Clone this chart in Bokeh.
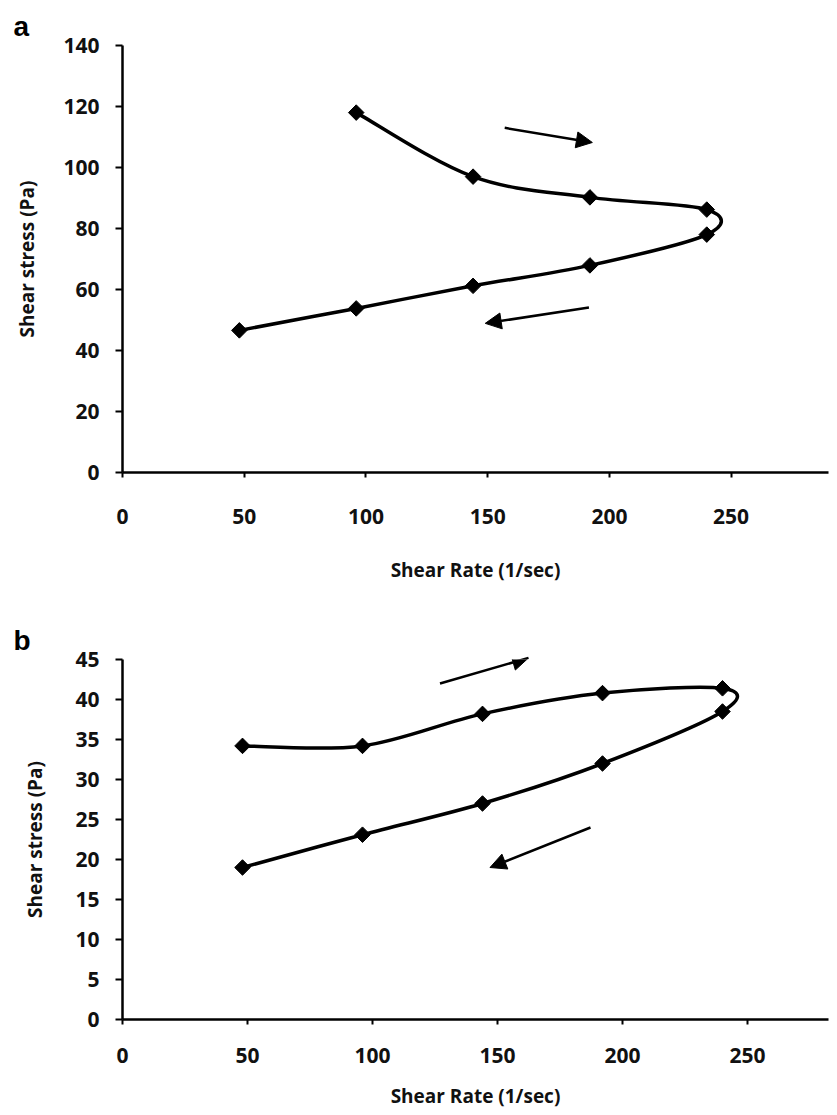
from bokeh.plotting import figure
from bokeh.layouts import column
from bokeh.models import Range1d, FixedTicker, Arrow, NormalHead
from bokeh.embed import file_html
from bokeh.resources import INLINE

# ---- data ----
rate_a_up = [96, 144, 192, 240]
stress_a_up = [118, 97, 90.2, 86.2]
rate_a_down = [240, 192, 144, 96, 48]
stress_a_down = [78, 67.9, 61.2, 53.8, 46.6]

rate_b_up = [48, 96, 144, 192, 240]
stress_b_up = [34.2, 34.2, 38.2, 40.8, 41.4]
rate_b_down = [240, 192, 144, 96, 48]
stress_b_down = [38.5, 32.0, 27.0, 23.1, 19.0]

x_ticks = [0, 50, 100, 150, 200, 250]
y_ticks_a = [0, 20, 40, 60, 80, 100, 120, 140]
y_ticks_b = [0, 5, 10, 15, 20, 25, 30, 35, 40, 45]

x_title = "Shear Rate (1/sec)"
y_title = "Shear stress (Pa)"

FONT = "Open Sans"


def smooth_segments(xs, ys):
    """Catmull-Rom style control points (as Excel smoothed lines) for bezier glyph."""
    n = len(xs)
    x0, y0, x1, y1, cx0, cy0, cx1, cy1 = [], [], [], [], [], [], [], []
    for i in range(n - 1):
        pm = i - 1 if i > 0 else i
        pp = i + 2 if i + 2 < n else i + 1
        x0.append(xs[i]); y0.append(ys[i])
        x1.append(xs[i + 1]); y1.append(ys[i + 1])
        cx0.append(xs[i] + (xs[i + 1] - xs[pm]) / 6.0)
        cy0.append(ys[i] + (ys[i + 1] - ys[pm]) / 6.0)
        cx1.append(xs[i + 1] - (xs[pp] - xs[i]) / 6.0)
        cy1.append(ys[i + 1] - (ys[pp] - ys[i]) / 6.0)
    return dict(x0=x0, y0=y0, x1=x1, y1=y1, cx0=cx0, cy0=cy0, cx1=cx1, cy1=cy1)


def make_panel(letter, xs, ys, x_end, y_end, yticks, height,
               b_top, b_bottom, xl_standoff, xt_standoff, ylab_standoff, arrows):
    p = figure(width=836, height=height, output_backend="svg",
               toolbar_location=None, x_range=Range1d(0, x_end),
               y_range=Range1d(0, y_end),
               min_border_left=122, min_border_right=8,
               min_border_top=b_top, min_border_bottom=b_bottom)
    p.outline_line_color = None
    p.xgrid.visible = False
    p.ygrid.visible = False
    p.background_fill_color = "white"

    p.title.text = letter
    p.title.align = "left"
    p.title.offset = -109
    p.title.text_font = "Liberation Sans"
    p.title.text_font_style = "bold"
    p.title.text_font_size = "28px"
    p.title.text_color = "black"
    p.title.standoff = 8

    p.xaxis.ticker = FixedTicker(ticks=x_ticks)
    p.yaxis.ticker = FixedTicker(ticks=yticks)
    for ax in (p.xaxis[0], p.yaxis[0]):
        ax.axis_line_width = 2.5
        ax.axis_line_color = "black"
        ax.major_tick_line_width = 2
        ax.major_tick_in = 0
        ax.minor_tick_line_color = None
        ax.major_label_text_font = FONT
        ax.major_label_text_font_style = "bold"
        ax.major_label_text_font_size = "21px"
        ax.major_label_text_color = "#111111"
        ax.axis_label_text_font = FONT
        ax.axis_label_text_font_style = "bold"
        ax.axis_label_text_font_size = "19px"
        ax.axis_label_text_color = "#111111"
    p.xaxis.major_tick_out = 5
    p.yaxis.major_tick_out = 7
    p.xaxis.major_label_standoff = xl_standoff
    p.yaxis.major_label_standoff = 16

    p.yaxis.axis_label = y_title
    p.yaxis.axis_label_standoff = ylab_standoff
    p.xaxis.axis_label = x_title
    p.xaxis.axis_label_standoff = xt_standoff

    seg = smooth_segments(xs, ys)
    p.bezier(x0="x0", y0="y0", x1="x1", y1="y1", cx0="cx0", cy0="cy0",
             cx1="cx1", cy1="cy1", source=seg, line_color="black", line_width=3.5)
    p.scatter(xs, ys, marker="square", angle=0.785398, size=11,
              fill_color="black", line_color="black")

    for (xs0, ys0, xe, ye) in arrows:
        p.add_layout(Arrow(end=NormalHead(size=16, fill_color="black", line_color="black"),
                           x_start=xs0, y_start=ys0, x_end=xe, y_end=ye,
                           line_width=2.5, line_color="black"))
    return p


xs_a = rate_a_up + rate_a_down
ys_a = stress_a_up + stress_a_down
xs_b = rate_b_up + rate_b_down
ys_b = stress_b_up + stress_b_down

pa = make_panel("a", xs_a, ys_a, 290, 140, y_ticks_a, 45 + 427 + 120, 45, 120,
                31, 30, 20,
                [(157, 113, 193, 108.2), (191.6, 54.1, 149, 48.9)])
pb = make_panel("b", xs_b, ys_b, 282.4, 45, y_ticks_b, 67 + 360 + 96, 67, 96,
                23, 17, 24,
                [(127, 42, 162.4, 45.2), (187.2, 24, 147, 19)])

layout = column(pa, pb, spacing=0)
open("out.html", "w").write(file_html(layout, INLINE))
